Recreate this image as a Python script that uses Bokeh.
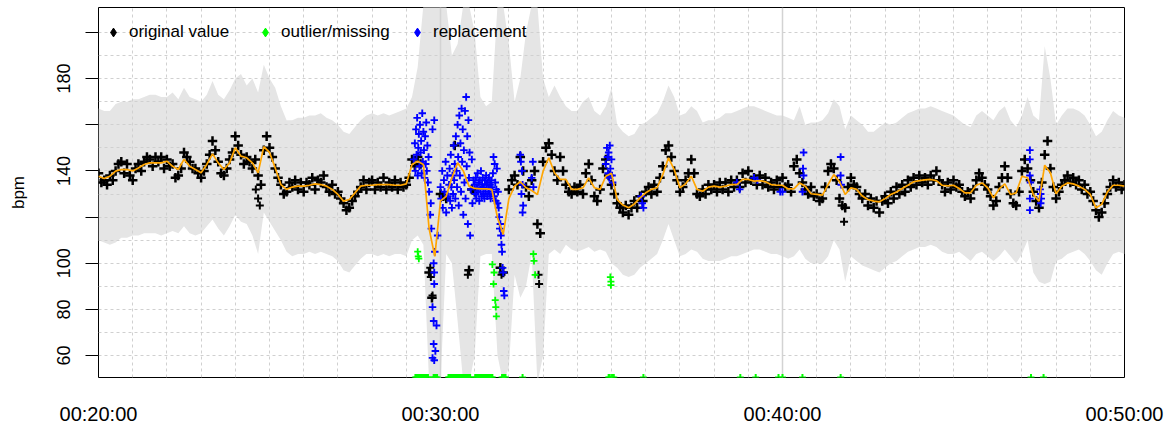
import numpy as np
from bokeh.plotting import figure
from bokeh.models import Range1d, FixedTicker, Legend, LegendItem, Span
from bokeh.embed import file_html
from bokeh.resources import INLINE

nan = np.nan

# ---------------- data (time in seconds since 00:00:00) ----------------
x_ticks = [1200, 1800, 2400, 3000]
x_tick_labels = ["00:20:00", "00:30:00", "00:40:00", "00:50:00"]
y_ticks = [60, 80, 100, 120, 140, 160, 180, 200]
y_tick_labels = ["60", "80", "100", "", "140", "", "180", ""]

# 10-second grid: smoothed heart rate and confidence band
t10 = list(range(1200, 3001, 10))
smooth = [
    137.7, 136.7, 137.7, 139.9, 140.6, 140.6, 140.0, 141.3, 142.8, 143.5, 143.5, 143.5, 144.2, 142.0, 140.6, 145.0,
    142.0, 140.6, 139.2, 142.8, 147.4, 143.5, 140.6, 143.5, 150.0, 146.4, 145.7, 143.5, 139.2, 150.5, 148.0,
    141.3, 134.1, 132.0, 133.0, 133.4, 133.4, 133.8, 134.4, 134.1, 133.4, 132.0, 129.8, 126.9, 127.6, 130.5,
    133.4, 133.8, 133.8, 134.1, 134.1, 134.1, 133.8, 133.8, 134.4, 142.8, 144.2, 142.8, 115.0, 103.0, 127.0,
    129.0, 137.0, 143.5, 140.0, 133.4, 132.4, 132.2, 132.2, 132.0, 119.7, 112.5, 128.0, 133.4, 135.3, 132.7,
    131.5, 129.8, 139.9, 145.7, 139.2, 136.3, 136.3, 132.0, 132.0, 132.7, 137.0, 132.7, 132.0, 137.7, 139.0,
    127.6, 125.2, 124.0, 125.7, 128.3, 130.5, 132.0, 132.7, 138.4, 145.7, 140.6, 132.7, 134.4, 137.7, 132.0,
    131.2, 133.0, 133.4, 133.0, 133.4, 134.1, 134.1, 136.3, 136.3, 135.6, 135.8, 135.3, 134.1, 133.8, 133.8,
    132.2, 132.2, 134.8, 133.4, 130.1, 129.8, 129.5, 134.1, 138.4, 135.3, 129.8, 132.7, 132.0, 129.1, 127.6,
    126.9, 126.6, 128.0, 129.8, 130.9, 132.4, 133.8, 135.3, 135.8, 136.1, 136.3, 135.8, 133.8, 133.5, 133.8,
    132.4, 130.5, 130.5, 133.8, 134.8, 132.7, 128.3, 132.2, 134.4, 129.8, 130.5, 137.7, 137.0, 129.8, 126.9,
    142.5, 139.2, 130.1, 133.4, 134.8, 134.4, 133.4, 132.0, 129.8, 124.0, 125.5, 130.9, 133.8, 133.8, 133.4,
]
upper = [
    167, 166, 166, 169, 170, 170, 171, 171, 172, 173, 173, 172, 172, 174, 171, 176, 172, 171, 170, 173, 179, 173,
    171, 175, 180, 182, 177, 180, 174, 186, 180,
    176, 168, 162, 162, 163, 163, 164, 164, 165, 163, 162, 160, 157, 156, 159, 162, 164, 165, 164, 165, 164, 165,
    166, 167, 172, 185, 212, 212, 212, 212,
    212, 190, 195, 212, 212, 200, 172, 168, 170, 212, 212, 195, 170, 180, 200, 212, 212, 180, 172, 177, 172, 168,
    166, 166, 170, 172, 166, 164, 168, 176,
    160, 157, 155, 156, 160, 161, 163, 165, 170, 177, 172, 164, 165, 168, 166, 161, 162, 162, 163, 165, 165, 166,
    167, 168, 168, 167, 166, 165, 164, 164,
    163, 162, 168, 160, 161, 161, 162, 165, 171, 168, 158, 164, 162, 160, 157, 157, 159, 161, 160, 161, 163, 165,
    166, 167, 167, 168, 167, 166, 165, 164,
    162, 160, 159, 164, 166, 164, 162, 166, 168, 162, 159, 164, 172, 164, 162, 194, 180, 160, 164, 167, 167, 166,
    164, 160, 155, 157, 162, 166, 164, 163,
]
lower = [
    110, 109, 108, 109, 111, 111, 112, 112, 113, 113, 113, 112, 113, 114, 113, 116, 113, 112, 113, 116, 119, 115,
    112, 116, 121, 118, 117, 112, 104, 122, 118,
    114, 110, 105, 103, 104, 104, 105, 104, 105, 104, 103, 101, 97, 96, 99, 102, 104, 104, 103, 104, 103, 104,
    104, 103, 110, 112, 108, 48, 48, 48,
    104, 100, 75, 48, 48, 60, 103, 104, 104, 60, 48, 55, 95, 85, 90, 104, 48, 60, 104, 106, 104, 108, 106, 105,
    106, 107, 105, 106, 105, 100,
    98, 95, 94, 95, 98, 100, 102, 104, 110, 117, 110, 103, 104, 106, 105, 102, 101, 101, 101, 102, 103, 103,
    104, 105, 106, 106, 105, 104, 104, 103,
    102, 103, 106, 102, 100, 100, 100, 103, 110, 106, 92, 103, 101, 99, 98, 97, 96, 98, 100, 101, 103, 105, 106,
    107, 107, 108, 107, 105, 104, 104,
    105, 103, 101, 104, 105, 103, 101, 103, 106, 103, 100, 104, 110, 96, 92, 91, 92, 101, 102, 104, 105, 106,
    104, 101, 97, 95, 100, 104, 105, 104,
]

# 5-second grid: original values (nan where replaced)
t5 = list(range(1200, 3001, 5))
original = [
    139, 135, 136, 134, 138, 136, 140, 143, 144, 139, 143, 138,
    136, 141, 143, 140, 144, 146, 145, 142, 146, 144, 146, 141,
    145, 142, 143, 137, 138, 141, 148, 146, 144, 141, 141, 139,
    137, 140, 143, 147, 153, 149, 144, 139, 138, 141, 145, 148,
    155, 151, 147, 143, 146, 144, 141, 145, 138, 134, 149, 155,
    150, 146, 141, 137, 134, 130, 131, 135, 133, 136, 132, 135,
    131, 135, 134, 137, 132, 136, 135, 138, 133, 131, 134, 130,
    131, 128, 126, 123, 124, 127, 129, 131, 133, 136, 132, 135,
    136, 132, 135, 133, 137, 132, 135, 133, 136, 132, 135, 133,
    134, 137, 145, 142, 146, 143, nan, nan, 96, 85, nan, nan,
    130, 129, 128, nan, nan, 151, nan, nan, nan, nan, 97, 132,
    131, nan, nan, nan, nan, nan, nan, nan, nan, 98, 96, nan,
    132, 136, 138, 134, 146, 140, 133, 129, 136, 140, 117, 113,
    144, 150, 152, 147, 140, 136, 146, 140, 134, 131, 130, 133,
    131, 134, 130, 139, 143, 136, 129, 127, 132, 141, 145, 138,
    134, 130, 126, 124, 122, 125, 121, 124, 127, 124, 129, 127,
    131, 133, 130, 134, 131, 137, 142, 149, 151, 146, 140, 136,
    131, 133, 136, 139, 145, 139, 130, 129, 132, 130, 134, 132,
    134, 131, 135, 132, 135, 131, 136, 133, 136, 133, 139, 135,
    140, 136, 137, 134, 138, 134, 137, 133, 135, 132, 136, 133,
    137, 133, 134, 131, 142, 145, 139, 135, 132, 130, 133, 129,
    130, 127, 128, 133, 140, 143, 141, 136, 128, 125, 124, 133,
    137, 134, 133, 130, 128, 130, 125, 128, 124, 127, 122, 127,
    129, 126, 131, 128, 133, 130, 134, 131, 136, 133, 137, 134,
    138, 135, 137, 134, 138, 136, 140, 136, 134, 131, 135, 132,
    136, 133, 134, 131, 129, 131, 128, 132, 136, 139, 137, 134,
    132, 129, 125, 127, 133, 137, 142, 137, 130, 126, 125, 131,
    140, 145, 141, 136, 131, 127, 124, 135, 147, 153, 141, 133,
    128, 131, 134, 136, 138, 135, 137, 134, 136, 132, 134, 130,
    131, 127, 123, 120, 122, 126, 130, 133, 136, 133, 135, 132,
    134,
]
extra_t = [1476, 1480, 1483, 1782, 1783, 1786, 1848, 1907, 1972, 1973, 2508]
extra_v = [132, 128, 125, 98, 94, 86, 95, 95, 95, 91, 118]

# replacement values
repl_t = [
    1753, 1755, 1756, 1757, 1758, 1759, 1760, 1761, 1762, 1763, 1764, 1765, 1766, 1767, 1768, 1769, 1770, 1771,
    1772, 1773, 1774, 1775, 1776, 1777, 1778, 1779, 1780,
    1782, 1783, 1784, 1786, 1786, 1786, 1788, 1788, 1788, 1789, 1789, 1789, 1789, 1790, 1791, 1793, 1795,
    1800, 1801, 1803, 1804, 1806, 1807, 1809, 1810, 1812, 1813, 1815,
    1816, 1817, 1818, 1819, 1820, 1821, 1822, 1823, 1824, 1825, 1826, 1827, 1828, 1829, 1830, 1831, 1832, 1833,
    1834, 1835, 1836, 1837, 1838, 1839, 1840, 1841, 1842, 1843, 1844, 1845, 1846, 1847, 1848, 1849, 1850, 1851,
    1852, 1853, 1855, 1856, 1858,
    1860, 1861, 1862, 1863, 1864, 1865, 1866, 1867, 1868, 1869, 1870, 1871, 1872, 1873, 1874, 1875, 1876, 1877,
    1878, 1879, 1880, 1881, 1882, 1883, 1884, 1885, 1886, 1887, 1888, 1889, 1890, 1891, 1892, 1893, 1894, 1895,
    1896, 1897, 1898, 1899, 1900, 1901, 1902, 1903,
    1904, 1905, 1906, 1907, 1908, 1909, 1910, 1911, 1912,
    1940, 1941, 1942, 1943, 1944, 1944, 1945, 1960, 1962, 1963,
    2090, 2092, 2093, 2094, 2095, 2096, 2097, 2098, 2100, 2101, 2102,
    2152, 2154, 2156, 2320, 2325, 2350, 2356, 2396, 2400,
    2435, 2436, 2437, 2437, 2502, 2502, 2503,
    2834, 2834, 2834, 2835, 2834, 2834, 2852, 2853, 2854, 2853,
]
repl_v = [
    145, 152, 140, 158, 147, 163, 138, 150, 156, 142, 160, 148, 153, 139, 165, 144, 157, 149,
    137, 155, 143, 161, 140, 151, 135, 146, 131,
    121, 126, 115, 81, 59, 158, 100, 75, 65, 96, 91, 58, 162, 105, 62, 73, 112,
    133, 128, 140, 124, 136, 131, 144, 122, 138, 129, 134,
    141, 127, 147, 133, 124, 138, 130, 151, 136, 143, 128, 155, 140, 133, 160, 146, 125, 164,
    138, 152, 131, 167, 144, 158, 121, 149, 135, 166, 128, 172, 142, 155, 117, 162, 137, 148,
    112, 132, 145, 126, 136,
    134, 130, 137, 128, 133, 139, 131, 135, 127, 136, 132, 140, 129, 134, 137, 130, 133, 128,
    136, 131, 138, 134, 129, 135, 132, 137, 130, 134, 128, 136, 133, 131, 139, 146, 129, 143,
    135, 127, 132, 141, 126, 131, 124, 120,
    115, 117, 112, 108, 105, 98, 96, 88, 86,
    147, 144, 130, 140, 134, 122, 125, 137, 144, 133,
    143, 150, 146, 139, 148, 137, 151, 141, 145, 138, 135,
    129, 126, 124, 135, 132, 137, 136, 131, 131,
    131, 141, 148, 138, 146, 138, 134,
    149, 145, 138, 135, 128, 123, 132, 130, 128, 126,
]

# outliers (flagged values) and missing values (drawn at the bottom)
outlier_t = [1760, 1761, 1762, 1891, 1893, 1894, 1896, 1897, 1898, 1963, 1964, 1966, 2098, 2099, 2099]
outlier_v = [105, 103, 102, 99.5, 91, 96, 84, 81, 77, 104, 101, 95, 94, 92, 90.5]
missing_t = [
    1756, 1758, 1760, 1762, 1764, 1766, 1768, 1770, 1772, 1774, 1776, 1778,
    1788, 1790, 1792, 1794,
    1814, 1816, 1818, 1820, 1822, 1824, 1826, 1828, 1830, 1832, 1834, 1836, 1838, 1840, 1842, 1844, 1846,
    1848, 1850, 1852,
    1861, 1863, 1865, 1867, 1869, 1871, 1873, 1875, 1877, 1879, 1881, 1883, 1885, 1887, 1889, 1891,
    1908, 1910, 1912, 1914, 1944,
    2095, 2097, 2101, 2104, 2156, 2326, 2353, 2393, 2400, 2435, 2502, 2836, 2858,
]
missing_level = 50.5

grid_minutes = list(range(1260, 3000, 60))
grid_bpm = list(range(60, 201, 10))

FONT = "Liberation Sans"

# ---------------- figure ----------------
p = figure(width=1176, height=427, output_backend="svg", toolbar_location=None,
           x_range=Range1d(1200, 3000), y_range=Range1d(50.5, 210.8),
           min_border_left=98, min_border_right=52, min_border_top=7, min_border_bottom=50)
p.outline_line_color = "black"
p.outline_line_width = 1
p.background_fill_color = "white"
p.border_fill_color = "white"

# grids
for g, tk in ((p.xgrid, grid_minutes), (p.ygrid, grid_bpm)):
    g.ticker = FixedTicker(ticks=tk)
    g.grid_line_color = "#D0D0D0"
    g.grid_line_dash = "3 3"
    g.grid_line_width = 1

# x axis
xa = p.xaxis[0]
xa.ticker = FixedTicker(ticks=x_ticks)
xa.major_label_overrides = dict(zip(x_ticks, x_tick_labels))
xa.major_tick_out = 0
xa.major_tick_in = 0
xa.minor_tick_out = 0
xa.axis_line_color = None
xa.major_label_text_font = FONT
xa.major_label_text_font_size = "20px"
xa.major_label_text_color = "black"
xa.major_label_standoff = 25

# y axis
ya = p.yaxis[0]
ya.ticker = FixedTicker(ticks=y_ticks)
ya.major_label_overrides = dict(zip(y_ticks, y_tick_labels))
ya.major_tick_out = 13
ya.major_tick_in = 0
ya.minor_tick_out = 0
ya.major_tick_line_color = "black"
ya.axis_line_color = None
ya.major_label_orientation = "vertical"
ya.major_label_text_font = FONT
ya.major_label_text_font_size = "18px"
ya.major_label_text_color = "black"
ya.major_label_standoff = 15
ya.axis_label = "bpm"
ya.axis_label_text_font = FONT
ya.axis_label_text_font_size = "17px"
ya.axis_label_text_font_style = "normal"
ya.axis_label_text_color = "black"
ya.axis_label_standoff = 27

# band
p.varea(x=t10, y1=lower, y2=upper, fill_color="#E5E5E5", level="image")

for loc in (1800, 2400):
    p.add_layout(Span(location=loc, dimension="height", line_color="#D3D3D3", line_width=1.5, level="underlay"))

# points
p.scatter(t5, original, marker="cross", size=9.5, line_color="black", line_width=2.5)
p.scatter(extra_t, extra_v, marker="cross", size=8, line_color="black", line_width=2)
p.scatter(repl_t, repl_v, marker="cross", size=7.5, line_color="#0000FF", line_width=1.9)
p.scatter(outlier_t, outlier_v, marker="cross", size=7, line_color="#00FF00", line_width=1.8)
p.scatter(missing_t, [missing_level] * len(missing_t), marker="cross", size=7, line_color="#00FF00", line_width=2)

# smoothed line
p.line(t10, smooth, line_color="#FFA500", line_width=1.7)

# legend with diamond symbols
legend_labels = ["original value", "outlier/missing", "replacement"]
legend_colors = ["black", "#00FF00", "#0000FF"]
items = []
for lab, col in zip(legend_labels, legend_colors):
    r = p.scatter(x=[nan], y=[nan], marker="diamond", size=10, fill_color=col, line_color=col)
    items.append(LegendItem(label=lab, renderers=[r]))
legend = Legend(items=items, orientation="horizontal", location=(4, 334),
                glyph_width=22, glyph_height=22, label_standoff=5, spacing=16, label_width=109,
                padding=0, margin=0, border_line_color=None, background_fill_alpha=0,
                label_text_font=FONT, label_text_font_size="17px", label_text_color="black")
p.add_layout(legend)

open("out.html", "w").write(file_html(p, INLINE))
